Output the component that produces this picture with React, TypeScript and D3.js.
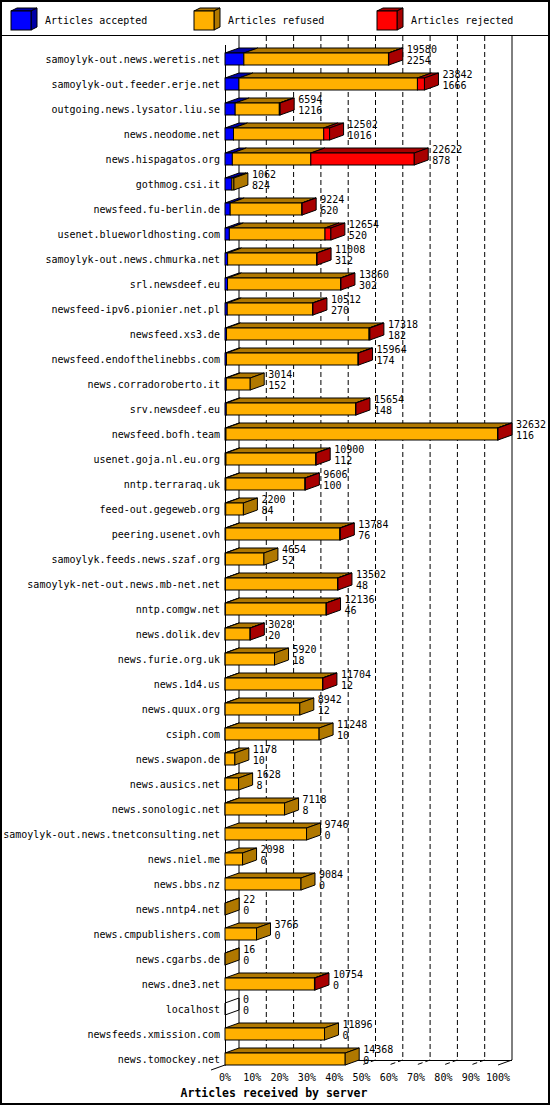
import React from 'react';
import * as d3 from 'd3';

// innreport style "articles received by server" chart

const servers = [
  'samoylyk-out.news.weretis.net', 'samoylyk-out.feeder.erje.net', 'outgoing.news.lysator.liu.se',
  'news.neodome.net', 'news.hispagatos.org', 'gothmog.csi.it', 'newsfeed.fu-berlin.de',
  'usenet.blueworldhosting.com', 'samoylyk-out.news.chmurka.net', 'srl.newsdeef.eu',
  'newsfeed-ipv6.pionier.net.pl', 'newsfeed.xs3.de', 'newsfeed.endofthelinebbs.com',
  'news.corradoroberto.it', 'srv.newsdeef.eu', 'newsfeed.bofh.team', 'usenet.goja.nl.eu.org',
  'nntp.terraraq.uk', 'feed-out.gegeweb.org', 'peering.usenet.ovh', 'samoylyk.feeds.news.szaf.org',
  'samoylyk-net-out.news.mb-net.net', 'nntp.comgw.net', 'news.dolik.dev', 'news.furie.org.uk',
  'news.1d4.us', 'news.quux.org', 'csiph.com', 'news.swapon.de', 'news.ausics.net',
  'news.sonologic.net', 'samoylyk-out.news.tnetconsulting.net', 'news.niel.me', 'news.bbs.nz',
  'news.nntp4.net', 'news.cmpublishers.com', 'news.cgarbs.de', 'news.dne3.net', 'localhost',
  'newsfeeds.xmission.com', 'news.tomockey.net',
];

const offered = [
  19580, 23842, 6594, 12502, 22622, 1062, 9224, 12654, 11008, 13860, 10512, 17318, 15964, 3014,
  15654, 32632, 10900, 9606, 2200, 13784, 4654, 13502, 12136, 3028, 5920, 11704, 8942, 11248,
  1178, 1628, 7118, 9746, 2098, 9084, 22, 3766, 16, 10754, 0, 11896, 14368,
];

const accepted = [
  2254, 1666, 1216, 1016, 878, 824, 620, 520, 312, 302, 270, 182, 174, 152, 148, 116, 112, 100,
  84, 76, 52, 48, 46, 20, 18, 12, 12, 10, 10, 8, 8, 0, 0, 0, 0, 0, 0, 0, 0, 0, 0,
];

// estimated from the red parts of the bars
const rejected = [
  40, 840, 100, 700, 12364, 0, 40, 700, 50, 50, 50, 100, 60, 0, 50, 60, 60, 50, 0, 60, 0, 50,
  50, 30, 0, 50, 0, 0, 0, 0, 0, 0, 0, 0, 0, 0, 0, 60, 0, 0, 0,
];

const tickLabels = ['0%', '10%', '20%', '30%', '40%', '50%', '60%', '70%', '80%', '90%', '100%'];

const legend = [
  { label: 'Articles accepted', front: '#0000FF', dark: '#0000A8' },
  { label: 'Articles refused', front: '#FFB000', dark: '#B07800' },
  { label: 'Articles rejected', front: '#FF0000', dark: '#A80000' },
];

const W = 550;
const H = 1105;
const DX = 14;
const DY = 5;
const BAR_H = 12;
const font = '"DejaVu Sans Mono", monospace';

export default function App() {
  const x = d3.scaleLinear().domain([0, d3.max(offered) as number]).range([225, 498]);
  const y = d3.scalePoint<string>().domain(servers).range([59, 1059]);
  const floorY = 1065;
  const topY = 36;

  const poly = (pts: number[][]) => pts.map((p) => p.join(',')).join(' ');

  const gridVals = d3.range(0, 11).map((k) => (k / 10) * (d3.max(offered) as number));

  return (
    <svg
      width={W}
      height={H}
      style={{ position: 'absolute', left: 0, top: 0, background: '#fff' }}
      fontFamily={font}
    >
      <rect x={0} y={0} width={W} height={H} fill="#fff" />

      {/* legend */}
      {legend.map((l, i) => {
        const lx = [11, 194, 377][i];
        return (
          <g key={l.label}>
            <polygon points={poly([[lx, 11], [lx + 6, 8], [lx + 26, 8], [lx + 20, 11]])} fill={l.dark} stroke="#000" />
            <polygon points={poly([[lx + 20, 11], [lx + 26, 8], [lx + 26, 27], [lx + 20, 30]])} fill={l.dark} stroke="#000" />
            <rect x={lx} y={11} width={20} height={19} fill={l.front} stroke="#000" />
            <text x={lx + 34} y={24} fontSize={10}>{l.label}</text>
          </g>
        );
      })}
      <line x1={0} x2={W} y1={35.5} y2={35.5} stroke="#000" />

      {/* back wall grid */}
      {gridVals.map((v, k) => (
        <line
          key={'g' + k}
          x1={x(v) + DX}
          x2={x(v) + DX}
          y1={topY}
          y2={floorY - DY}
          stroke="#000"
          strokeDasharray={k === 0 || k === 10 ? undefined : '5,3'}
        />
      ))}
      {/* floor */}
      {gridVals.map((v, k) => (
        <line
          key={'f' + k}
          x1={x(v) + DX}
          x2={x(v)}
          y1={floorY - DY}
          y2={floorY}
          stroke="#000"
          strokeDasharray={k === 0 || k === 10 ? undefined : '5,3'}
        />
      ))}
      <line x1={x(0) + DX} x2={x(gridVals[10]) + DX} y1={floorY - DY + 0.5} y2={floorY - DY + 0.5} stroke="#000" />
      <line x1={x(0) + DX} x2={x(0) - DX} y1={floorY - DY} y2={floorY + DY} stroke="#000" />
      <line x1={x(0) + 0.5} x2={x(0) + 0.5} y1={45} y2={floorY} stroke="#000" />

      {/* bars */}
      {servers.map((s, i) => {
        const yc = y(s) as number;
        const y0 = yc - BAR_H / 2;
        const y1 = yc + BAR_H / 2;
        const refused = offered[i] - accepted[i] - rejected[i];
        const vals = [accepted[i], refused, rejected[i]];
        let acc = 0;
        const segs = vals.map((v, k) => {
          const seg = { a: acc, b: acc + v, k };
          acc += v;
          return seg;
        }).filter((sg) => sg.b > sg.a);
        const last = segs[segs.length - 1];
        const xe = x(offered[i]);
        return (
          <g key={s}>
            <text x={220} y={yc + 4} fontSize={10} textAnchor="end">{s}</text>
            {segs.map((sg) => (
              <polygon
                key={'t' + sg.k}
                points={poly([[x(sg.a), y0], [x(sg.a) + DX, y0 - DY], [x(sg.b) + DX, y0 - DY], [x(sg.b), y0]])}
                fill={legend[sg.k].dark}
                stroke="#000"
              />
            ))}
            {segs.map((sg) => (
              <rect
                key={'r' + sg.k}
                x={x(sg.a)}
                y={y0}
                width={x(sg.b) - x(sg.a)}
                height={BAR_H}
                fill={legend[sg.k].front}
                stroke="#000"
              />
            ))}
            <polygon
              points={poly([[xe, y0], [xe + DX, y0 - DY], [xe + DX, y1 - DY], [xe, y1]])}
              fill={last ? legend[last.k].dark : 'none'}
              stroke="#000"
            />
            <text x={xe + DX + 4} y={yc - 6} fontSize={10}>{offered[i]}</text>
            <text x={xe + DX + 4} y={yc + 5} fontSize={10}>{accepted[i]}</text>
          </g>
        );
      })}

      {/* x ticks */}
      {gridVals.map((v, k) => (
        <text key={'l' + k} x={x(v)} y={1081} fontSize={10} textAnchor="middle">{tickLabels[k]}</text>
      ))}
      <text x={274} y={1097} fontSize={11.5} fontWeight="bold" textAnchor="middle">Articles received by server</text>

      <rect x={1} y={1} width={W - 2} height={H - 2} fill="none" stroke="#000" strokeWidth={2} />
    </svg>
  );
}
